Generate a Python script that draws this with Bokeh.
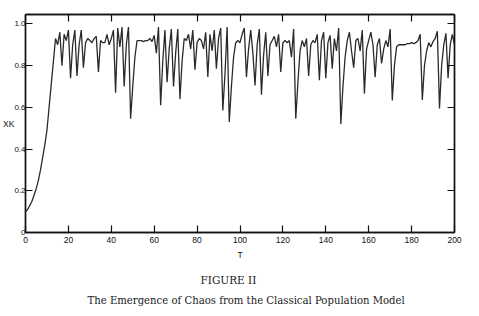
from bokeh.plotting import figure
from bokeh.models import Range1d, LinearAxis, FixedTicker, Title
from bokeh.embed import file_html
from bokeh.resources import INLINE

# ---- data ----
t_values = list(range(0, 201))

xk_t0_14 = [0.10, 0.11, 0.13, 0.15, 0.18, 0.21, 0.25, 0.30, 0.36, 0.42, 0.49, 0.60, 0.71, 0.82, 0.93]
xk_t15_29 = [0.90, 0.96, 0.80, 0.95, 0.92, 0.97, 0.74, 0.90, 0.97, 0.75, 0.90, 0.97, 0.79, 0.91, 0.93]
xk_t30_44 = [0.92, 0.91, 0.93, 0.94, 0.77, 0.92, 0.91, 0.91, 0.95, 0.90, 0.93, 0.97, 0.67, 0.98, 0.89]
xk_t45_59 = [0.985, 0.70, 0.90, 0.985, 0.545, 0.70, 0.84, 0.92, 0.92, 0.92, 0.915, 0.92, 0.92, 0.93, 0.915]
xk_t60_74 = [0.945, 0.86, 0.985, 0.61, 0.82, 0.97, 0.72, 0.88, 0.975, 0.70, 0.86, 0.975, 0.64, 0.82, 0.93]
xk_t75_89 = [0.92, 0.95, 0.88, 0.97, 0.78, 0.91, 0.93, 0.92, 0.88, 0.96, 0.745, 0.95, 0.87, 0.97, 0.785]
xk_t90_104 = [0.93, 0.98, 0.585, 0.76, 0.985, 0.53, 0.70, 0.84, 0.91, 0.92, 0.91, 0.95, 0.98, 0.745, 0.88]
xk_t105_119 = [0.97, 0.86, 0.705, 0.90, 0.975, 0.66, 0.85, 0.96, 0.75, 0.90, 0.92, 0.94, 0.89, 0.95, 0.77]
xk_t120_134 = [0.91, 0.92, 0.91, 0.92, 0.84, 0.975, 0.545, 0.72, 0.87, 0.92, 0.89, 0.93, 0.75, 0.90, 0.92]
xk_t135_149 = [0.91, 0.95, 0.73, 0.92, 0.96, 0.74, 0.91, 0.945, 0.785, 0.93, 0.87, 0.98, 0.52, 0.70, 0.84]
xk_t150_164 = [0.92, 0.96, 0.87, 0.79, 0.92, 0.93, 0.87, 0.97, 0.665, 0.88, 0.92, 0.96, 0.90, 0.745, 0.90]
xk_t165_179 = [0.93, 0.81, 0.88, 0.92, 0.89, 0.975, 0.633, 0.80, 0.89, 0.90, 0.90, 0.90, 0.90, 0.905, 0.905]
xk_t180_194 = [0.91, 0.905, 0.91, 0.92, 0.95, 0.635, 0.80, 0.87, 0.91, 0.89, 0.915, 0.93, 0.965, 0.595, 0.80]
xk_t195_200 = [0.90, 0.955, 0.74, 0.90, 0.95, 0.90]

xk_values = (xk_t0_14 + xk_t15_29 + xk_t30_44 + xk_t45_59 + xk_t60_74 + xk_t75_89
             + xk_t90_104 + xk_t105_119 + xk_t120_134 + xk_t135_149 + xk_t150_164
             + xk_t165_179 + xk_t180_194 + xk_t195_200)
assert len(xk_values) == len(t_values)

x_ticks = [0, 20, 40, 60, 80, 100, 120, 140, 160, 180, 200]
y_ticks = [0, 0.2, 0.4, 0.6, 0.8, 1.0]
y_tick_labels = {0: "0", 0.2: "0.2", 0.4: "0.4", 0.6: "0.6", 0.8: "0.8", 1.0: "1.0"}

x_title = "T"
y_title = "XK"
figure_number = "FIGURE II"
caption = "The Emergence of Chaos from the Classical Population Model"

# ---- figure ----
p = figure(width=479, height=316,
           x_range=Range1d(0, 200), y_range=Range1d(0, 1.045),
           output_backend="svg", toolbar_location=None,
           min_border_left=24, min_border_right=25,
           min_border_top=14, min_border_bottom=84,
           background_fill_color="white", border_fill_color="white")
p.grid.visible = False
p.outline_line_color = "#111111"
p.outline_line_width = 1.3

p.line(t_values, xk_values, line_color="#2a2a2a", line_width=1.3)

tick_font = "Liberation Sans"

def style_axis(ax, show_labels):
    ax.axis_line_color = "#111111"
    ax.axis_line_width = 1.5
    ax.major_tick_in = 7
    ax.major_tick_out = 0
    ax.major_tick_line_color = "#111111"
    ax.major_tick_line_width = 1.2
    ax.minor_tick_line_color = None
    ax.major_label_text_font = tick_font
    ax.major_label_text_font_size = "8.5px"
    if show_labels:
        ax.major_label_text_color = "#111111"
    else:
        ax.major_label_text_color = None
        ax.major_label_standoff = 0

xa = p.xaxis[0]
xa.ticker = FixedTicker(ticks=x_ticks)
style_axis(xa, True)
xa.major_label_standoff = 4
xa.axis_label = x_title
xa.axis_label_text_font = tick_font
xa.axis_label_text_font_style = "normal"
xa.axis_label_text_font_size = "8.5px"
xa.axis_label_text_color = "#111111"
xa.axis_label_standoff = 4

ya = p.yaxis[0]
ya.ticker = FixedTicker(ticks=y_ticks)
ya.major_label_overrides = y_tick_labels
style_axis(ya, True)
ya.major_label_text_font_size = "8px"
ya.major_label_standoff = 0
ya.axis_label = y_title
ya.axis_label_orientation = "horizontal"
ya.axis_label_text_font = tick_font
ya.axis_label_text_font_style = "normal"
ya.axis_label_text_font_size = "8.5px"
ya.axis_label_text_color = "#111111"
ya.axis_label_standoff = -3

top = LinearAxis(ticker=FixedTicker(ticks=x_ticks))
style_axis(top, False)
p.add_layout(top, "above")
right = LinearAxis(ticker=FixedTicker(ticks=y_ticks))
style_axis(right, False)
p.add_layout(right, "right")

t1 = Title(text=figure_number, align="left", offset=175, standoff=18,
           vertical_align="bottom",
           text_font="DejaVu Serif", text_font_size="10.5px", text_font_style="normal",
           text_color="#1a1a1a")
t2 = Title(text=caption, align="left", offset=62, standoff=0,
           vertical_align="top",
           text_font="DejaVu Serif", text_font_size="10.1px", text_font_style="normal",
           text_color="#1a1a1a")
for tt in (t1, t2):
    if "padding" in tt.properties():
        tt.padding = 0
p.add_layout(t1, "below")
p.add_layout(t2, "below")

open("out.html", "w").write(file_html(p, INLINE))
